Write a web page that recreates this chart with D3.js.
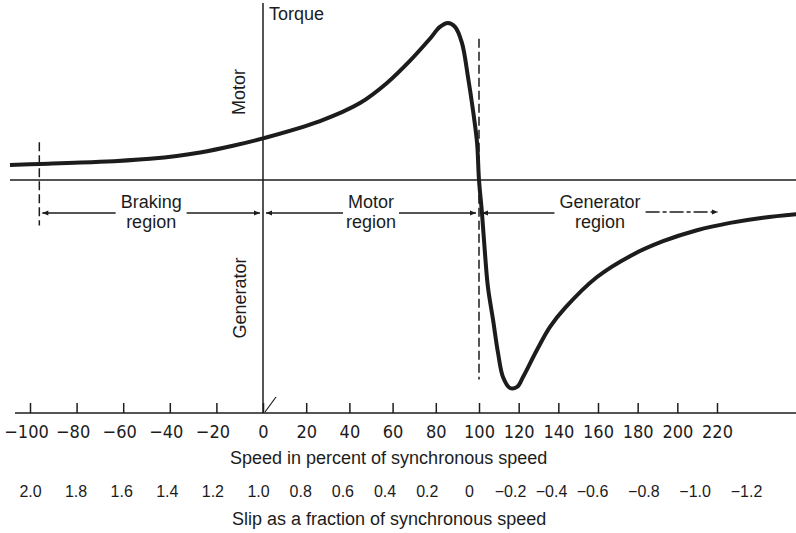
<!DOCTYPE html>
<html>
<head>
<meta charset="utf-8">
<script src="https://cdn.jsdelivr.net/npm/d3@7"></script>
<style>
  body { margin: 0; background: #fff; }
  svg { display: block; font-family: "Liberation Sans", Arial, sans-serif; }
  .ink { stroke: #1c1c1c; fill: none; }
  .speed-axis text { font-family: "Liberation Sans Narrow", "DejaVu Sans Condensed", sans-serif; font-size: 18px; fill: #1c1c1c; }
  .slip-axis text { font-size: 16px; fill: #1c1c1c; }
</style>
</head>
<body>
<svg id="chart" width="796" height="533"></svg>
<script>
// speed in percent of synchronous speed / torque (100 = motor pull-out torque)
var curveSpeed = [-108.6, -95.7, -70.0, -48.5, -37.0, -27.0, -12.9, 0, 26.4, 44.9, 57.4, 68.1, 77.3, 81.9, 85.6, 88.9,
  92.1, 94.9, 97.2, 99.1, 100, 101.5, 103.0, 104.5, 107.1, 109.6, 112.1, 115.6, 119.2, 122.2, 129.2,
  135.8, 143.4, 159.5, 176.1, 192.8, 209.9, 226.6, 243.2, 259.9];
var curveTorque = [9.6, 10.2, 11.6, 13.6, 15.3, 17.5, 21.8, 26.5, 37.5, 49.0, 61.8, 76.0, 90.0, 97.5, 100, 97.5,
  87.3, 65.6, 44.6, 23.6, 0, -21.0, -46.5, -68.2, -89.2, -110.2, -125.5, -132.5, -131.8, -125.5, -108.3,
  -93.6, -81.5, -61.8, -48.5, -39.0, -32.0, -27.3, -24.0, -21.8];

var speedTicks = [-100, -80, -60, -40, -20, 0, 20, 40, 60, 80, 100, 120, 140, 160, 180, 200, 220];
var slipTicks = [2.0, 1.8, 1.6, 1.4, 1.2, 1.0, 0.8, 0.6, 0.4, 0.2, 0, -0.2, -0.4, -0.6, -0.8, -1.0, -1.2];

var regionNames = ['Braking', 'Motor', 'Generator'];
var regionFrom = [-96, 0, 100];
var regionTo = [0, 100, 222];

var svg = d3.select('#chart');
var ink = '#1c1c1c';

// the printed scale is not quite even, so the scales are piecewise
var x = d3.scaleLinear().domain([-100, 0, 100, 220]).range([30, 263, 479, 717]);
var slip = d3.scaleLinear().domain([2, 1, 0, -0.6, -1.2]).range([30, 258, 469, 592, 746]);
var y = d3.scaleLinear().domain([0, 100]).range([180, 23]);

var axisY = 413;

var defs = svg.append('defs');
function arrowMarker(id, dir){
  defs.append('marker')
    .attr('id', id)
    .attr('viewBox', '0 0 10 10')
    .attr('refX', dir > 0 ? 10 : 0).attr('refY', 5)
    .attr('markerWidth', 9).attr('markerHeight', 6)
    .attr('markerUnits', 'userSpaceOnUse')
    .attr('orient', 0)
    .append('path')
    .attr('d', dir > 0 ? 'M0,1L10,5L0,9Z' : 'M10,1L0,5L10,9Z')
    .attr('fill', ink);
}
arrowMarker('arr-r', 1);
arrowMarker('arr-l', -1);

// zero torque line
svg.append('line').attr('class', 'ink')
  .attr('x1', 10).attr('x2', 796)
  .attr('y1', y(0)).attr('y2', y(0))
  .attr('stroke-width', 1.5);

// torque axis
svg.append('line').attr('class', 'ink')
  .attr('x1', x(0)).attr('x2', x(0))
  .attr('y1', 3).attr('y2', axisY)
  .attr('stroke-width', 1.5);
svg.append('line').attr('class', 'ink')
  .attr('x1', x(0) + 2).attr('x2', x(0) + 13)
  .attr('y1', axisY - 1).attr('y2', axisY - 16)
  .attr('stroke-width', 1.2);

svg.append('text').attr('x', x(0) + 6).attr('y', 20)
  .attr('font-size', 18).attr('fill', ink).text('Torque');
svg.append('text').attr('transform', 'translate(' + (x(0) - 18) + ',' + 92 + ') rotate(-90)')
  .attr('text-anchor', 'middle').attr('font-size', 18).attr('fill', ink).text('Motor');
svg.append('text').attr('transform', 'translate(' + (x(0) - 17) + ',' + 298 + ') rotate(-90)')
  .attr('text-anchor', 'middle').attr('font-size', 18).attr('fill', ink).text('Generator');

// dashed region boundaries
svg.append('line').attr('class', 'ink')
  .attr('x1', x(-96)).attr('x2', x(-96))
  .attr('y1', y(24)).attr('y2', y(-29))
  .attr('stroke-width', 1.5).attr('stroke-dasharray', '9,4');
svg.append('line').attr('class', 'ink')
  .attr('x1', x(100)).attr('x2', x(100))
  .attr('y1', y(90)).attr('y2', y(-127))
  .attr('stroke-width', 1.5).attr('stroke-dasharray', '9,4');

// region arrows and labels
var arrowY = 213;
regionNames.forEach(function(name, i){
  var x0 = x(regionFrom[i]) + 3, x1 = x(regionTo[i]) - 3;
  var cx = (x(regionFrom[i]) + x(regionTo[i])) / 2;
  var gen = name === 'Generator';
  var g = svg.append('g');
  var t = g.append('text').attr('x', cx).attr('y', 208)
    .attr('text-anchor', 'middle').attr('font-size', 18).attr('fill', ink).text(name);
  g.append('text').attr('x', cx).attr('y', 228)
    .attr('text-anchor', 'middle').attr('font-size', 18).attr('fill', ink).text('region');
  var half = t.node().getComputedTextLength() / 2 + 5;
  g.append('line').attr('class', 'ink')
    .attr('x1', x0).attr('x2', cx - half)
    .attr('y1', arrowY).attr('y2', arrowY)
    .attr('stroke-width', 1.3)
    .attr('marker-start', 'url(#arr-l)');
  var right = g.append('line').attr('class', 'ink')
    .attr('x1', gen ? x(184) : cx + half).attr('x2', x1)
    .attr('y1', arrowY - (gen ? 1 : 0)).attr('y2', arrowY - (gen ? 1 : 0))
    .attr('stroke-width', 1.3)
    .attr('marker-end', 'url(#arr-r)');
  if(gen) right.attr('stroke-dasharray', '14,3,4,3');
});

// torque-speed curve
var pts = curveSpeed.map(function(s, i){ return [s, curveTorque[i]]; });
var line = d3.line()
  .x(function(d){ return x(d[0]); })
  .y(function(d){ return y(d[1]); })
  .curve(d3.curveCatmullRom.alpha(0.5));
svg.append('path').datum(pts)
  .attr('class', 'ink')
  .attr('stroke-width', 4)
  .attr('stroke-linejoin', 'round')
  .attr('d', line);

// speed axis
svg.append('line').attr('class', 'ink')
  .attr('x1', 15).attr('x2', 796)
  .attr('y1', axisY).attr('y2', axisY)
  .attr('stroke-width', 1.5);
var speedAxis = svg.append('g').attr('class', 'speed-axis')
  .attr('transform', 'translate(0,' + axisY + ')')
  .call(d3.axisBottom(x).tickValues(speedTicks).tickSizeInner(-10).tickSizeOuter(0).tickPadding(12)
    .tickFormat(function(d){ return d3.format('d')(d); }));
speedAxis.select('.domain').remove();
speedAxis.selectAll('.tick line').attr('stroke', ink).attr('stroke-width', 1.5);
speedAxis.selectAll('.tick text').attr('dx', function(d){ return d < 0 ? -4 : 0; });

svg.append('text').attr('x', 230).attr('y', 464)
  .attr('font-size', 18).attr('fill', ink).text('Speed in percent of synchronous speed');

// slip axis
var slipAxis = svg.append('g').attr('class', 'slip-axis')
  .attr('transform', 'translate(0,486)')
  .call(d3.axisBottom(slip).tickValues(slipTicks).tickSize(0).tickPadding(0)
    .tickFormat(function(d){ return d === 0 ? '0' : d3.format('.1f')(d); }));
slipAxis.select('.domain').remove();

svg.append('text').attr('x', 232).attr('y', 525)
  .attr('font-size', 18).attr('fill', ink).text('Slip as a fraction of synchronous speed');
</script>
</body>
</html>
